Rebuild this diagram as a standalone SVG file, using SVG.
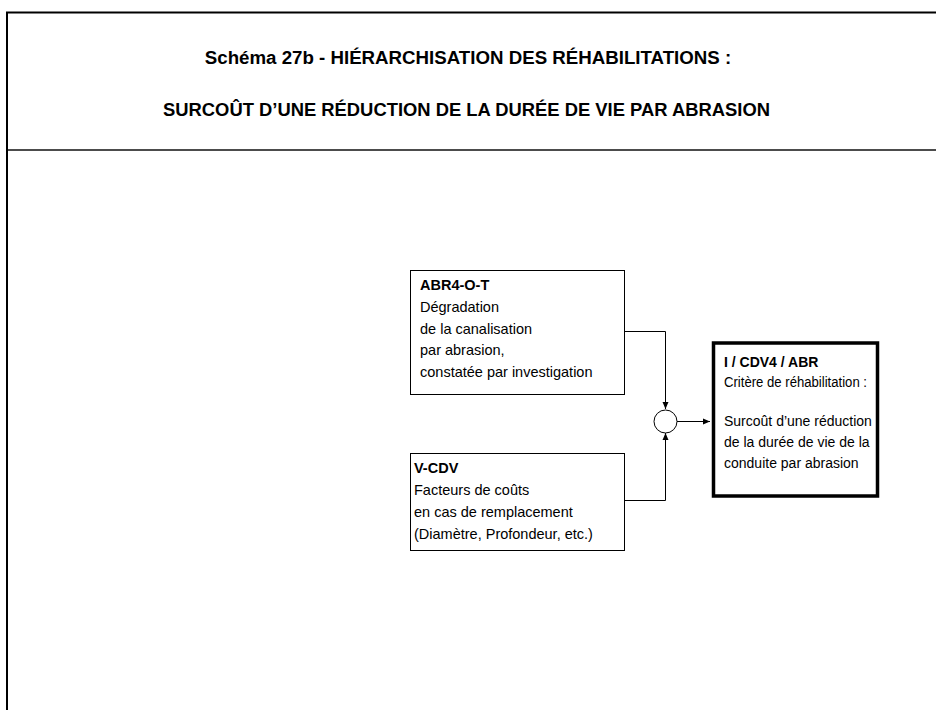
<svg xmlns="http://www.w3.org/2000/svg" width="936" height="710" viewBox="0 0 936 710">
<style>
.t{font-family:"Liberation Sans",Arial,sans-serif;font-size:14.5px;fill:#000}
.s{font-size:14px}
.b{font-weight:bold}
.h{font-family:"Liberation Sans",Arial,sans-serif;font-size:18.7px;font-weight:bold;fill:#000;text-anchor:middle}
.box{fill:#fff;stroke:#000;stroke-width:1}
.c{fill:none;stroke:#000;stroke-width:1}
</style>
<defs>
<marker id="ah" markerWidth="8" markerHeight="8" refX="7" refY="4" orient="auto" markerUnits="userSpaceOnUse">
<path d="M0,1 L7,4 L0,7 Z" fill="#000"/>
</marker>
</defs>
<rect width="936" height="710" fill="#fff"/>
<g id="frame">
<path d="M7,710 V12.5 H936" fill="none" stroke="#000" stroke-width="2"/>
<line x1="8" y1="150" x2="936" y2="150" stroke="#111" stroke-width="1.5"/>
<text class="h" x="468" y="64">Schéma 27b - HIÉRARCHISATION DES RÉHABILITATIONS :</text>
<text class="h" x="466.5" y="116" textLength="607" lengthAdjust="spacingAndGlyphs">SURCOÛT D’UNE RÉDUCTION DE LA DURÉE DE VIE PAR ABRASION</text>
</g>
<g id="connectors">
<path class="c" d="M624.5,331.5 H665.5 V409" marker-end="url(#ah)"/>
<path class="c" d="M624.5,500.5 H665.5 V433" marker-end="url(#ah)"/>
<path class="c" d="M677,421.5 H710" marker-end="url(#ah)"/>
</g>
<g id="junction">
<circle cx="665.5" cy="421.5" r="11.5" fill="#fff" stroke="#000" stroke-width="1"/>
</g>
<g id="abr4">
<rect class="box" x="410.5" y="270.5" width="214" height="124"/>
<text class="t b" x="420" y="290">ABR4-O-T</text>
<text class="t" x="420" y="312">Dégradation</text>
<text class="t" x="420" y="333.5">de la canalisation</text>
<text class="t" x="420" y="355">par abrasion,</text>
<text class="t" x="420" y="377">constatée par investigation</text>
</g>
<g id="vcdv">
<rect class="box" x="410.5" y="453.5" width="214" height="97"/>
<text class="t b" x="414" y="473">V-CDV</text>
<text class="t" x="414" y="495">Facteurs de coûts</text>
<text class="t" x="414" y="517">en cas de remplacement</text>
<text class="t" x="414" y="539">(Diamètre, Profondeur, etc.)</text>
</g>
<g id="icdv4">
<rect x="713.5" y="343" width="164" height="153" fill="#fff" stroke="#000" stroke-width="3.5"/>
<text class="t s b" x="724" y="367">I / CDV4 / ABR</text>
<text class="t s" x="724" y="387" textLength="143" lengthAdjust="spacingAndGlyphs">Critère de réhabilitation :</text>
<text class="t s" x="724" y="425.5">Surcoût d’une réduction</text>
<text class="t s" x="724" y="446.5">de la durée de vie de la</text>
<text class="t s" x="724" y="467.5">conduite par abrasion</text>
</g>
</svg>
